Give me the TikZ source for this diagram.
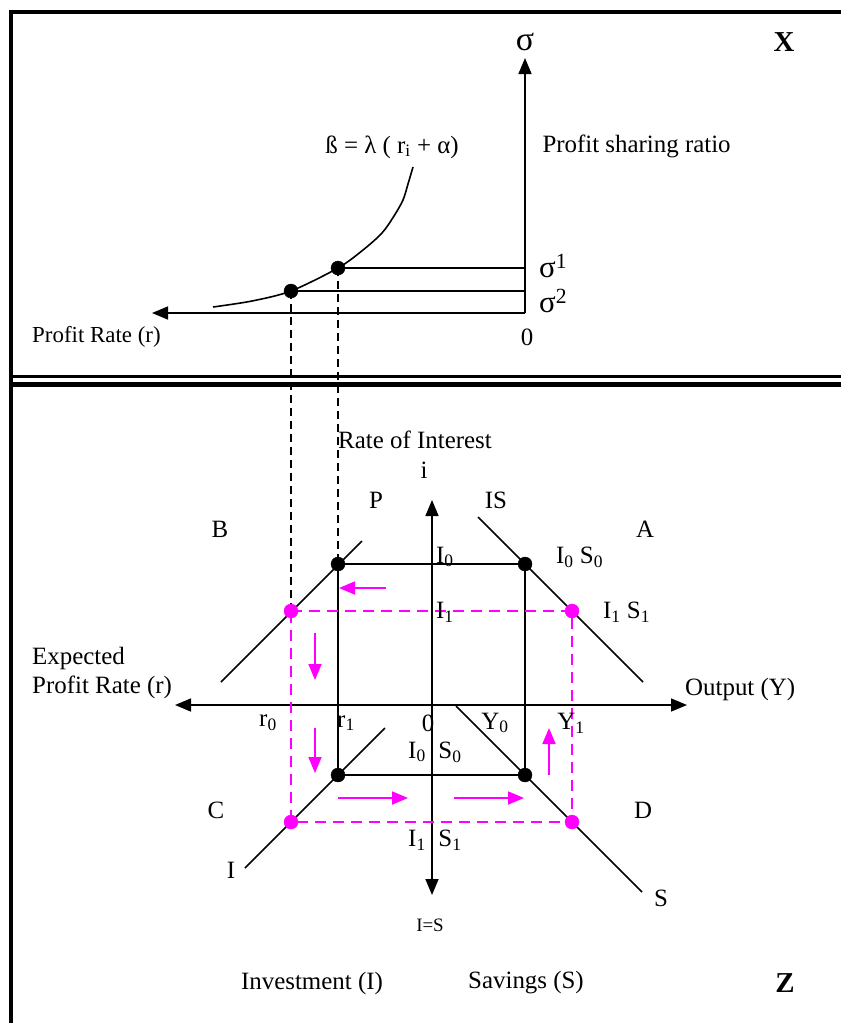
\documentclass[tikz,border=0pt]{standalone}
\usepackage{fontspec}
\setmainfont{Liberation Serif}
\usetikzlibrary{arrows.meta, calc}

\begin{document}
\begin{tikzpicture}[x=1bp, y=-1bp, >={Triangle[length=16bp,width=13bp]},
        font=\fontsize{25}{29}\selectfont,
        axisline/.style={line width=1.6bp},
        guide/.style={line width=1.4bp, dash pattern=on 8bp off 5bp},
        shiftarrow/.style={line width=1.8bp, pathmagenta, ->},
        pinkbox/.style={line width=1.5bp, pathmagenta, dash pattern=on 11bp off 7bp},
        siglabel/.style={anchor=base west, inner sep=0pt, font=\fontsize{31}{34}\selectfont},
        bigletter/.style={font=\fontsize{29}{32}\selectfont\bfseries}]
        % Colori
        \definecolor{pathmagenta}{RGB}{255,0,255}

        \useasboundingbox (0,0) rectangle (841,1023);

        % Cornice e doppia linea di separazione
        \draw[line width=4bp] (9,12) -- (841,12);
        \draw[line width=4bp] (11,10) -- (11,1023);
        \draw[line width=3bp] (9,376.5) -- (841,376.5);
        \draw[line width=4.5bp] (9,384.5) -- (841,384.5);

        % Pannello X: rapporto di partecipazione agli utili
        \coordinate (O1) at (525,313);
        \coordinate (sigtop) at (525,58);
        \coordinate (rleft) at (152,313);
        \coordinate (q1) at (291,291);
        \coordinate (q2) at (338,268);
        \draw[axisline,->] (O1) -- (sigtop);
        \draw[axisline,->] (O1) -- (rleft);
        \draw[axisline] plot[smooth] coordinates {(213,307) (252,301) (291,291) (338,268) (363,250) (382,233) (394,216) (403,200) (408,184) (413,167)};
        \draw[axisline] (q2) -- (O1 |- q2);
        \draw[axisline] (q1) -- (O1 |- q1);
        \filldraw[black] (q1) circle (7bp);
        \filldraw[black] (q2) circle (7bp);

        \node[font=\fontsize{34}{36}\selectfont] (sig) at (525,42) {σ};
        \node[bigletter] (X) at (784,42) {X};
        \node[anchor=west] (ratio) at (539,146) {Profit sharing ratio};
        \node (eq) at (392,147) {ß = λ ( r\textsubscript{i} + α)};
        \node[siglabel] (sig1) at (539,277) {σ\textsuperscript{1}};
        \node[siglabel] (sig2) at (539,312) {σ\textsuperscript{2}};
        \node (zero1) at (527,337) {0};
        \node[anchor=west, inner sep=0pt, font=\fontsize{23}{27}\selectfont] (prate) at (32,337) {Profit Rate (r)};

        % Pannello Z: mercato di investimento e risparmio
        \coordinate (O2) at (432,705);
        \coordinate (itop) at (432,500);
        \coordinate (ibot) at (432,895);
        \coordinate (xl) at (175,705);
        \coordinate (xr) at (687,705);
        \draw[axisline,<->] (itop) -- (ibot);
        \draw[axisline,<->] (xl) -- (xr);

        % Punti di equilibrio
        \coordinate (b0) at (338,564);
        \coordinate (a0) at (525,564);
        \coordinate (c0) at (338,775);
        \coordinate (d0) at (525,775);
        \coordinate (b1) at (291,611);
        \coordinate (a1) at (572,611);
        \coordinate (c1) at (291,822);
        \coordinate (d1) at (572,822);

        % Rette P, IS, I, S
        \draw[axisline] (362,541) -- (221,682);
        \draw[axisline] (478,517) -- (643,682);
        \draw[axisline] (385,728) -- (245,868);
        \draw[axisline] (456,706) -- (642,892);

        \draw[axisline] (b0) -- (a0) -- (d0) -- (c0) -- cycle;
        \draw[pinkbox] (b1) -- (a1) -- (d1) -- (c1) -- cycle;

        % Proiezioni dal pannello X
        \draw[guide] (q1) -- (b1);
        \draw[guide] (q2) -- (b0);

        % Frecce di aggiustamento
        \draw[shiftarrow] (386,588) -- (339,588);
        \draw[shiftarrow] (315,633) -- (315,680);
        \draw[shiftarrow] (315,728) -- (315,773);
        \draw[shiftarrow] (338,798) -- (408,798);
        \draw[shiftarrow] (454,798) -- (524,798);
        \draw[shiftarrow] (549,775) -- (549,728);

        \foreach \p in {b0,a0,c0,d0}
            \filldraw[black] (\p) circle (7bp);
        \foreach \p in {b1,a1,c1,d1}
            \filldraw[pathmagenta] (\p) circle (7bp);

        % Etichette
        \node (roi) at (415,440) {Rate of Interest};
        \node (ilab) at (424,470) {i};
        \node (P) at (376,500) {P};
        \node (IS) at (496,500) {IS};
        \node (B) at (220,529) {B};
        \node (A) at (645,529) {A};
        \node[anchor=west, inner sep=0pt] (I0a) at (436,557) {I\textsubscript{0}};
        \node[anchor=west, inner sep=0pt] (I0S0a) at (556,557) {I\textsubscript{0} S\textsubscript{0}};
        \node[anchor=west, inner sep=0pt] (I1a) at (436,612) {I\textsubscript{1}};
        \node[anchor=west, inner sep=0pt] (I1S1a) at (603,612) {I\textsubscript{1} S\textsubscript{1}};
        \node[anchor=west, align=left, inner sep=0pt] (eprate) at (32,673) {Expected\\Profit Rate (r)};
        \node[anchor=west, inner sep=0pt] (output) at (685,690) {Output (Y)};
        \node (r0) at (268,723) {r\textsubscript{0}};
        \node (r1) at (346,723) {r\textsubscript{1}};
        \node (zero2) at (428,723) {0};
        \node (Y0) at (495,723) {Y\textsubscript{0}};
        \node (Y1) at (571,723) {Y\textsubscript{1}};
        \node (I0b) at (417,752) {I\textsubscript{0}};
        \node (S0b) at (450,752) {S\textsubscript{0}};
        \node (C) at (216,810) {C};
        \node (D) at (643,810) {D};
        \node (I1b) at (417,840) {I\textsubscript{1}};
        \node (S1b) at (450,840) {S\textsubscript{1}};
        \node (Ilab) at (231,870) {I};
        \node (Slab) at (661,898) {S};
        \node[font=\fontsize{19}{22}\selectfont] (IeqS) at (430,925) {I=S};
        \node (invest) at (312,983) {Investment (I)};
        \node (saving) at (526,983) {Savings (S)};
        \node[bigletter] (Z) at (785,983) {Z};
    \end{tikzpicture}
\end{document}
